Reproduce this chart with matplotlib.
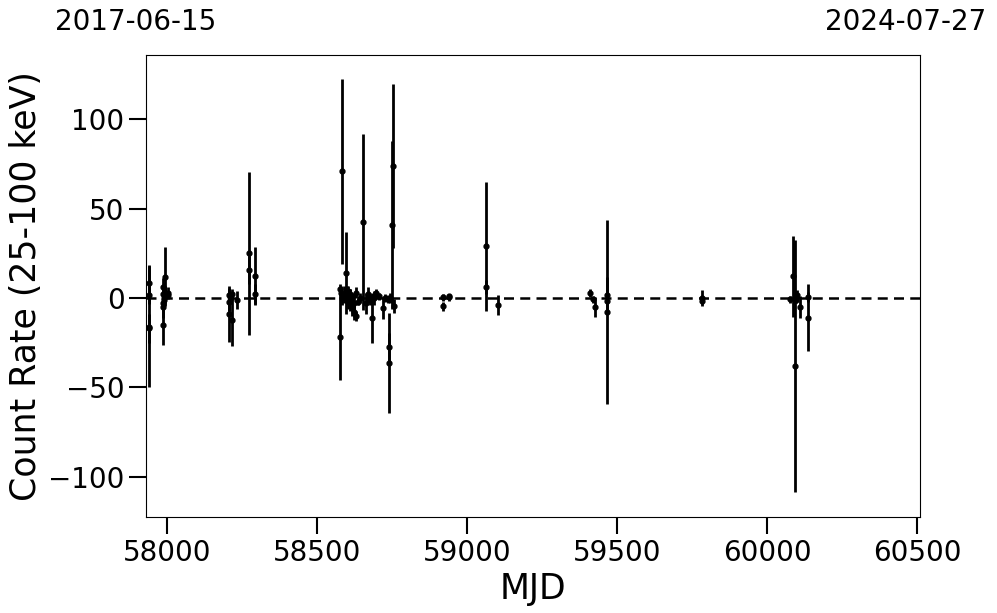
import matplotlib
matplotlib.use("Agg")
import matplotlib.pyplot as plt
import numpy as np

# ================= 데이터 =================
mjd = [
    57940, 57940, 57940, 57941,
    57987, 57987, 57987, 57988, 57988, 57990, 57990, 57993, 57993, 58003, 58003,
    58206, 58206, 58206, 58216, 58216, 58233, 58273, 58273, 58293, 58293,
    58576, 58578, 58580, 58583, 58585, 58590, 58596, 58600, 58603, 58603,
    58610, 58610, 58616, 58616, 58623, 58623, 58629, 58629, 58636, 58643,
    58653, 58663, 58669, 58676, 58683, 58689, 58696, 58706, 58719, 58726,
    58736, 58739, 58740, 58743, 58749, 58753, 58756,
    58919, 58919, 58939, 58939, 59062, 59062, 59105,
    59409, 59419, 59425, 59468, 59468, 59468,
    59782, 59783,
    60075, 60088, 60094, 60098, 60101, 60111, 60138, 60138,
]
rate = [
    8.4, 1.7, -16.0, -17.0,
    6.0, 2.0, -3.0, -5.0, -15.0, 0.0, -1.0, 12.0, 3.0, 3.0, 1.5,
    1.7, -2.0, -9.0, -12.0, 2.0, -1.0, 25.0, 15.7, 12.3, 2.2,
    -22.0, 5.0, 3.0, 71.0, 0.0, 2.0, 14.0, 4.0, -2.0, 4.0,
    -1.0, 2.0, -5.0, 1.0, -8.0, -3.0, 3.0, -10.0, -2.0, 0.0,
    42.6, -3.0, 2.0, -1.0, -11.0, 0.0, 2.8, 1.0, -5.6, 0.0,
    -0.5, -36.4, -27.5, 0.0, 41.0, 74.0, -4.5,
    0.5, -4.5, 0.5, 1.0, 29.0, 6.2, -4.0,
    2.8, -0.6, -5.0, 1.7, -1.7, -8.0,
    0.0, -1.5,
    -0.6, 12.3, -38.0, -1.0, 1.7, -5.0, 0.6, -11.0,
]
err = [
    10.0, 5.0, 34.0, 8.0,
    5.0, 3.0, 4.0, 6.0, 11.0, 3.0, 3.0, 16.5, 4.0, 3.0, 2.0,
    4.0, 5.0, 15.6, 14.6, 3.0, 5.0, 45.5, 8.0, 16.3, 5.6,
    24.0, 3.0, 4.0, 51.7, 4.0, 5.0, 23.0, 3.0, 4.0, 3.0,
    6.0, 3.0, 5.0, 2.0, 4.0, 5.0, 3.0, 3.0, 2.0, 3.0,
    49.4, 6.0, 4.0, 3.0, 14.0, 4.0, 2.0, 2.0, 6.0, 2.0,
    2.0, 28.0, 8.0, 3.0, 47.0, 46.0, 4.0,
    2.0, 2.5, 2.0, 1.5, 36.0, 4.0, 5.5,
    2.0, 2.0, 5.5, 10.0, 3.0, 51.5,
    4.5, 2.0,
    2.0, 22.7, 70.7, 2.0, 3.0, 6.0, 3.0, 18.7,
]
start_label = "2017-06-15"
end_label = "2024-07-27"
# ==========================================

fig = plt.figure(figsize=(9.97, 6.13), dpi=100)
ax = fig.add_axes([0.1464, 0.1566, 0.9228 - 0.1464, 0.9103 - 0.1566])

ax.errorbar(mjd, rate, yerr=err, fmt='o', color='k', ecolor='k',
            markersize=3.5, elinewidth=2, capsize=0)
ax.axhline(0, color='k', linestyle='--', linewidth=1.8, dashes=(4, 2.5))

ax.set_xlim(57930, 60510)
ax.set_ylim(-122.5, 136)
ax.set_xticks([58000, 58500, 59000, 59500, 60000, 60500])
ax.set_yticks([-100, -50, 0, 50, 100])

ax.set_xlabel("MJD", fontsize=25)
ax.set_ylabel("Count Rate (25-100 keV)", fontsize=25)
ax.tick_params(axis='both', labelsize=20, length=12, width=1.5)

fig.text(136 / 997, 1 - 22 / 613, start_label, fontsize=20, ha='center', va='center')
fig.text(906 / 997, 1 - 22 / 613, end_label, fontsize=20, ha='center', va='center')

plt.savefig("out.png", dpi=100)
